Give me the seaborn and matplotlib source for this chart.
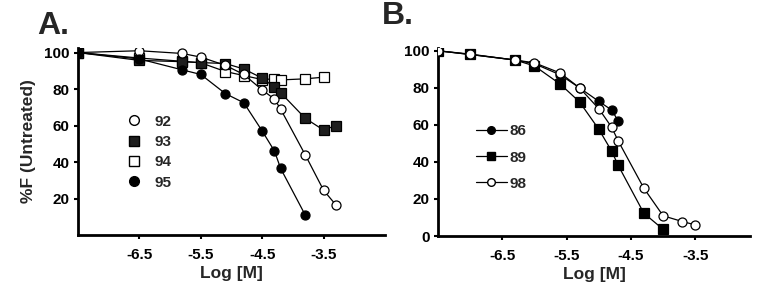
import seaborn as sns
import matplotlib.pyplot as plt
from matplotlib.lines import Line2D
import pandas as pd

# Panel A data
xa = [-7.5, -6.5, -5.8, -5.5, -5.1, -4.8, -4.5, -4.3, -4.2, -3.8, -3.5, -3.3]
a92 = [100, 101, 99.5, 97.5, 93, 88, 79.5, 74.5, 69, 44, 24.5, 16.5]
a93 = [100, 95.7, 95, 94.5, 94, 91, 86, 81, 78, 64, 57.5, 60]
xa94 = [-7.5, -6.5, -5.8, -5.5, -5.1, -4.8, -4.5, -4.3, -4.2, -3.8, -3.5]
a94 = [100, 97, 95.2, 94.4, 89.6, 87.4, 85.2, 85.6, 85, 85.6, 86.5]
xa95 = [-7.5, -6.5, -5.8, -5.5, -5.1, -4.8, -4.5, -4.3, -4.2, -3.8]
a95 = [100, 96.5, 90.5, 88, 77.5, 72.5, 57, 46, 36.5, 11]

# Panel B data
xb = [-7.5, -7.0, -6.3, -6.0, -5.6, -5.3, -5.0, -4.8, -4.7, -4.3, -4.0, -3.7, -3.5]
b98 = [100, 98.2, 95, 93.5, 88, 80, 68.7, 58.7, 51.4, 25.8, 10.9, 7.8, 6.0]
xb89 = [-7.5, -7.0, -6.3, -6.0, -5.6, -5.3, -5.0, -4.8, -4.7, -4.3, -4.0]
b89 = [100, 98, 95, 91.8, 82, 72.4, 57.6, 45.8, 38.2, 12.3, 3.6]
xb86 = [-7.5, -7.0, -6.3, -6.0, -5.6, -5.3, -5.0, -4.8, -4.7]
b86 = [100, 98, 95, 93, 87, 80, 72.7, 68, 62.2]

xticks = [-6.5, -5.5, -4.5, -3.5]

sns.set_theme(style="ticks")
plt.rcParams['font.family'] = ['Liberation Sans', 'DejaVu Sans']
plt.rcParams['font.weight'] = 'bold'

fig = plt.figure(figsize=(7.57, 2.98), dpi=100)
W, H = 757, 298
axA = fig.add_axes([78 / W, 1 - 235 / H, (385 - 78) / W, (235 - 48) / H])
axB = fig.add_axes([438 / W, 1 - 236 / H, (750 - 438) / W, (236 - 48) / H])

ms = 6.5
lw = 0.9

def draw(ax, x, y, marker, face):
    sns.lineplot(x=x, y=y, ax=ax, color='black', linewidth=lw, marker=marker,
                 markersize=ms, markerfacecolor=face, markeredgecolor='black',
                 markeredgewidth=0.9, sort=False, zorder=3)

draw(axA, xa94, a94, 's', 'white')
draw(axA, xa, a93, 's', '#1e1e1e')
draw(axA, xa, a92, 'o', 'white')
draw(axA, xa95, a95, 'o', 'black')
axA.set_xlim(-7.5, -2.5)
axA.set_ylim(0, 102.5)
axA.set_yticks([20, 40, 60, 80, 100])
axA.set_ylabel('%F (Untreated)', fontsize=12.5, fontweight='bold', labelpad=6)

draw(axB, xb89, b89, 's', 'black')
draw(axB, xb86, b86, 'o', 'black')
draw(axB, xb, b98, 'o', 'white')
axB.set_xlim(-7.5, -2.65)
axB.set_ylim(0, 101.5)
axB.set_yticks([0, 20, 40, 60, 80, 100])

for ax in (axA, axB):
    ax.set_xticks(xticks)
    ax.set_xticklabels(['-6.5', '-5.5', '-4.5', '-3.5'])
    ax.set_xlabel('Log [M]', fontsize=12.5, fontweight='bold', labelpad=2.5)
    for s in ('top', 'right'):
        ax.spines[s].set_visible(False)
    for s in ('left', 'bottom'):
        ax.spines[s].set_linewidth(2)
        ax.spines[s].set_color('black')
    ax.tick_params(width=1.5, length=3, labelsize=11, colors='black', pad=3)
    ax.tick_params(axis='x', pad=6.5)
    for lab in ax.get_xticklabels() + ax.get_yticklabels():
        lab.set_fontweight('bold')

# legends
hA = [Line2D([], [], ls='none', marker='o', ms=7, mfc='white', mec='black'),
      Line2D([], [], ls='none', marker='s', ms=7, mfc='#1e1e1e', mec='black'),
      Line2D([], [], ls='none', marker='s', ms=7, mfc='white', mec='black'),
      Line2D([], [], ls='none', marker='o', ms=7, mfc='black', mec='black')]
axA.legend(hA, ['92', '93', '94', '95'], loc='upper left', bbox_to_anchor=(0.153, 0.644),
           frameon=False, prop={'weight': 'bold', 'size': 11}, handlelength=1.2,
           handletextpad=0.75, labelspacing=0.42, borderpad=0, borderaxespad=0)

hB = [Line2D([], [], color='black', lw=lw, marker='o', ms=5.5, mfc='black', mec='black'),
      Line2D([], [], color='black', lw=lw, marker='s', ms=5.5, mfc='black', mec='black'),
      Line2D([], [], color='black', lw=lw, marker='o', ms=5.5, mfc='white', mec='black')]
axB.legend(hB, ['86', '89', '98'], loc='upper left', bbox_to_anchor=(0.122, 0.594),
           frameon=False, prop={'weight': 'bold', 'size': 11}, handlelength=2.0,
           handletextpad=0.2, labelspacing=0.8, borderpad=0, borderaxespad=0)

fig.text(37 / W, 1 - 34 / H, 'A.', fontsize=23, fontweight='bold', ha='left', va='baseline')
fig.text(382 / W, 1 - 24 / H, 'B.', fontsize=23, fontweight='bold', ha='left', va='baseline')

fig.savefig('out.png', dpi=100)
